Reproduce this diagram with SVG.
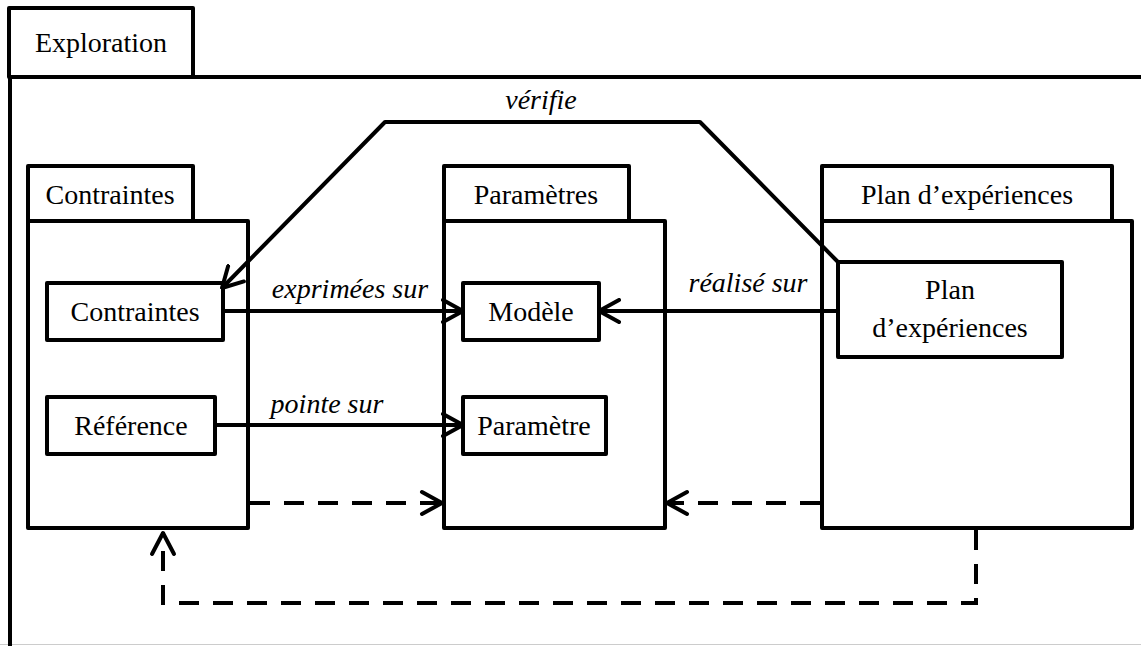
<svg xmlns="http://www.w3.org/2000/svg" width="1141" height="646" viewBox="0 0 1141 646">
<style>
.b{fill:#fff;stroke:#000;stroke-width:4;stroke-linejoin:round}
text{font-family:'Liberation Serif','Times New Roman','DejaVu Serif',serif;font-size:28px;fill:#000;text-anchor:middle}
.i{font-style:italic}
.c{fill:none;stroke:#000;stroke-width:4;stroke-linejoin:round}
.d{fill:none;stroke:#000;stroke-width:4;stroke-dasharray:20 14}
</style>
<defs>
<marker id="a" viewBox="0 0 24 26" refX="22" refY="13" markerWidth="24" markerHeight="26" markerUnits="userSpaceOnUse" orient="auto">
<path d="M2,2 L22,13 L2,24" fill="none" stroke="#000" stroke-width="4" stroke-linecap="round" stroke-linejoin="round"/>
</marker>
</defs>
<rect x="0" y="0" width="1141" height="646" fill="#fff"/>
<line x1="0" y1="644.5" x2="1141" y2="644.5" stroke="#ccc" stroke-width="1"/>
<g id="exploration">
<path class="c" d="M10,646 V77 H1141"/>
<rect class="b" x="9" y="8" width="184" height="69"/>
<text x="101" y="52">Exploration</text>
</g>
<g id="pkg-contraintes">
<rect class="b" x="28" y="166" width="165" height="55"/>
<text x="110" y="204">Contraintes</text>
<rect class="b" x="28" y="221" width="220" height="307"/>
</g>
<g id="pkg-parametres">
<rect class="b" x="444" y="166" width="185" height="55"/>
<text x="536" y="204">Paramètres</text>
<rect class="b" x="444" y="221" width="221" height="307"/>
</g>
<g id="pkg-plan">
<rect class="b" x="822" y="166" width="290" height="55"/>
<text x="967" y="204">Plan d’expériences</text>
<rect class="b" x="822" y="221" width="310" height="307"/>
</g>
<g id="contraintes">
<rect class="b" x="47" y="283" width="176" height="57"/>
<text x="135" y="321">Contraintes</text>
</g>
<g id="reference">
<rect class="b" x="47" y="397" width="168" height="57"/>
<text x="131" y="435">Référence</text>
</g>
<g id="modele">
<rect class="b" x="463" y="283" width="136" height="57"/>
<text x="531" y="321">Modèle</text>
</g>
<g id="parametre">
<rect class="b" x="463" y="397" width="143" height="57"/>
<text x="534" y="435">Paramètre</text>
</g>
<g id="plan">
<rect class="b" x="838" y="262" width="224" height="95"/>
<text x="950" y="299">Plan</text>
<text x="950" y="337">d’expériences</text>
</g>
<g id="connectors">
<path class="c" d="M838,262 L700,122 H385 L222,288" marker-end="url(#a)"/>
<text class="i" x="541" y="109">vérifie</text>
<line class="c" x1="223" y1="311" x2="463" y2="311" marker-end="url(#a)"/>
<text class="i" x="350" y="298">exprimées sur</text>
<line class="c" x1="838" y1="311" x2="599" y2="311" marker-end="url(#a)"/>
<text class="i" x="748" y="292">réalisé sur</text>
<line class="c" x1="215" y1="425" x2="463" y2="425" marker-end="url(#a)"/>
<text class="i" x="327" y="413">pointe sur</text>
<line class="d" x1="250" y1="503" x2="442" y2="503"/>
<path class="c" d="M422,492 L442,503 L422,514" stroke-linecap="round"/>
<line class="d" x1="820" y1="503" x2="667" y2="503"/>
<path class="c" d="M687,492 L667,503 L687,514" stroke-linecap="round"/>
<path class="d" d="M976,530 V603 H163 V532"/>
<path class="c" d="M152,554 L163,533 L174,554" stroke-linecap="round"/>
</g>
</svg>
